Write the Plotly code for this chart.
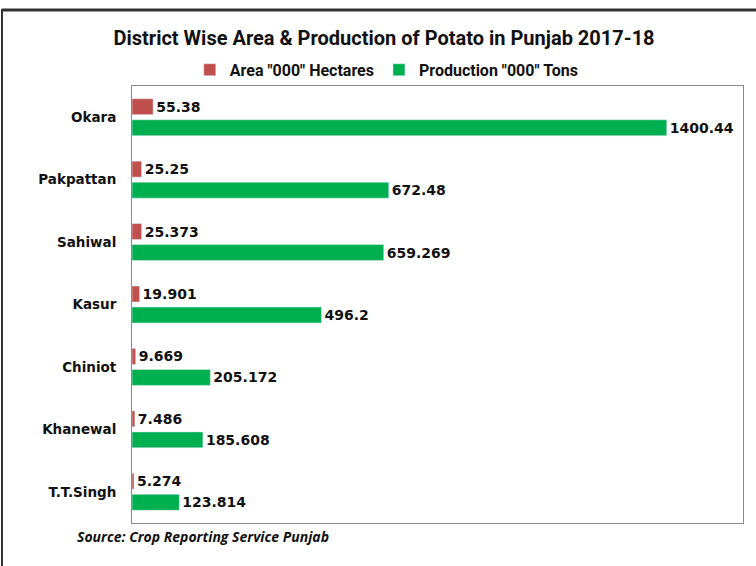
import plotly.graph_objects as go

districts = ["Okara", "Pakpattan", "Sahiwal", "Kasur", "Chiniot", "Khanewal", "T.T.Singh"]
area = [55.38, 25.25, 25.373, 19.901, 9.669, 7.486, 5.274]
production = [1400.44, 672.48, 659.269, 496.2, 205.172, 185.608, 123.814]
area_labels = ["55.38", "25.25", "25.373", "19.901", "9.669", "7.486", "5.274"]
production_labels = ["1400.44", "672.48", "659.269", "496.2", "205.172", "185.608", "123.814"]

label_font = dict(family="DejaVu Sans", size=14, color="#111111", weight="bold")

fig = go.Figure()
fig.add_trace(go.Bar(
    y=districts, x=area, orientation="h", name='Area "000" Hectares',
    marker=dict(color="#C0504D"), text=area_labels, textposition="outside",
    textfont=label_font, cliponaxis=False, constraintext="none",
))
fig.add_trace(go.Bar(
    y=districts, x=production, orientation="h", name='Production "000" Tons',
    marker=dict(color="#00B050"), text=production_labels, textposition="outside",
    textfont=label_font, cliponaxis=False, constraintext="none",
))

fig.update_layout(
    width=756, height=566,
    margin=dict(l=132, r=13, t=86, b=43, autoexpand=False),
    paper_bgcolor="white", plot_bgcolor="white",
    barmode="group", bargap=0.327, bargroupgap=0.24,
    title=dict(
        text="<b>District Wise Area & Production of Potato in Punjab 2017-18</b>",
        x=0.508, xanchor="center", y=0.933, yanchor="middle",
        font=dict(family="Roboto", size=20, color="#111111"),
    ),
    legend=dict(
        orientation="h", x=0.417, xanchor="center",
        y=1.037, yanchor="middle", bgcolor="rgba(0,0,0,0)",
        font=dict(family="Roboto", size=16, color="#111111", weight="bold"),
        itemwidth=30,
    ),
    showlegend=True,
)
fig.update_xaxes(range=[0, 1600], showticklabels=False, showgrid=False, zeroline=False,
                 showline=True, mirror=True, linecolor="#8a8a8a", linewidth=1)
fig.update_yaxes(autorange="reversed", showgrid=False, showline=True, mirror=True,
                 linecolor="#8a8a8a", linewidth=1, ticks="", ticklabelstandoff=12,
                 automargin=False,
                 tickfont=dict(family="DejaVu Sans", size=13.5, color="#111111", weight="bold"))

fig.add_annotation(
    text="Source: Crop Reporting Service Punjab", xref="paper", yref="paper",
    x=-0.093, y=-0.032, xanchor="left", yanchor="middle", showarrow=False,
    font=dict(family="Open Sans", size=14, color="#111111", weight="bold", style="italic"),
)

# outer frame (top and left edges of the cropped image), drawn in pixels from the paper corner
fig.add_shape(type="line", xref="paper", yref="paper", xsizemode="pixel", ysizemode="pixel",
              xanchor=0, yanchor=1, x0=-130, x1=640, y0=76, y1=76,
              line=dict(color="#333333", width=3), layer="above")
fig.add_shape(type="line", xref="paper", yref="paper", xsizemode="pixel", ysizemode="pixel",
              xanchor=0, yanchor=1, x0=-130, x1=-130, y0=77, y1=-580,
              line=dict(color="#333333", width=2), layer="above")

# drop the default page margin so the figure sits at the window's corner
fig.write_html("out.html", config={"displayModeBar": False},
               post_script="document.body.style.margin='0';")
